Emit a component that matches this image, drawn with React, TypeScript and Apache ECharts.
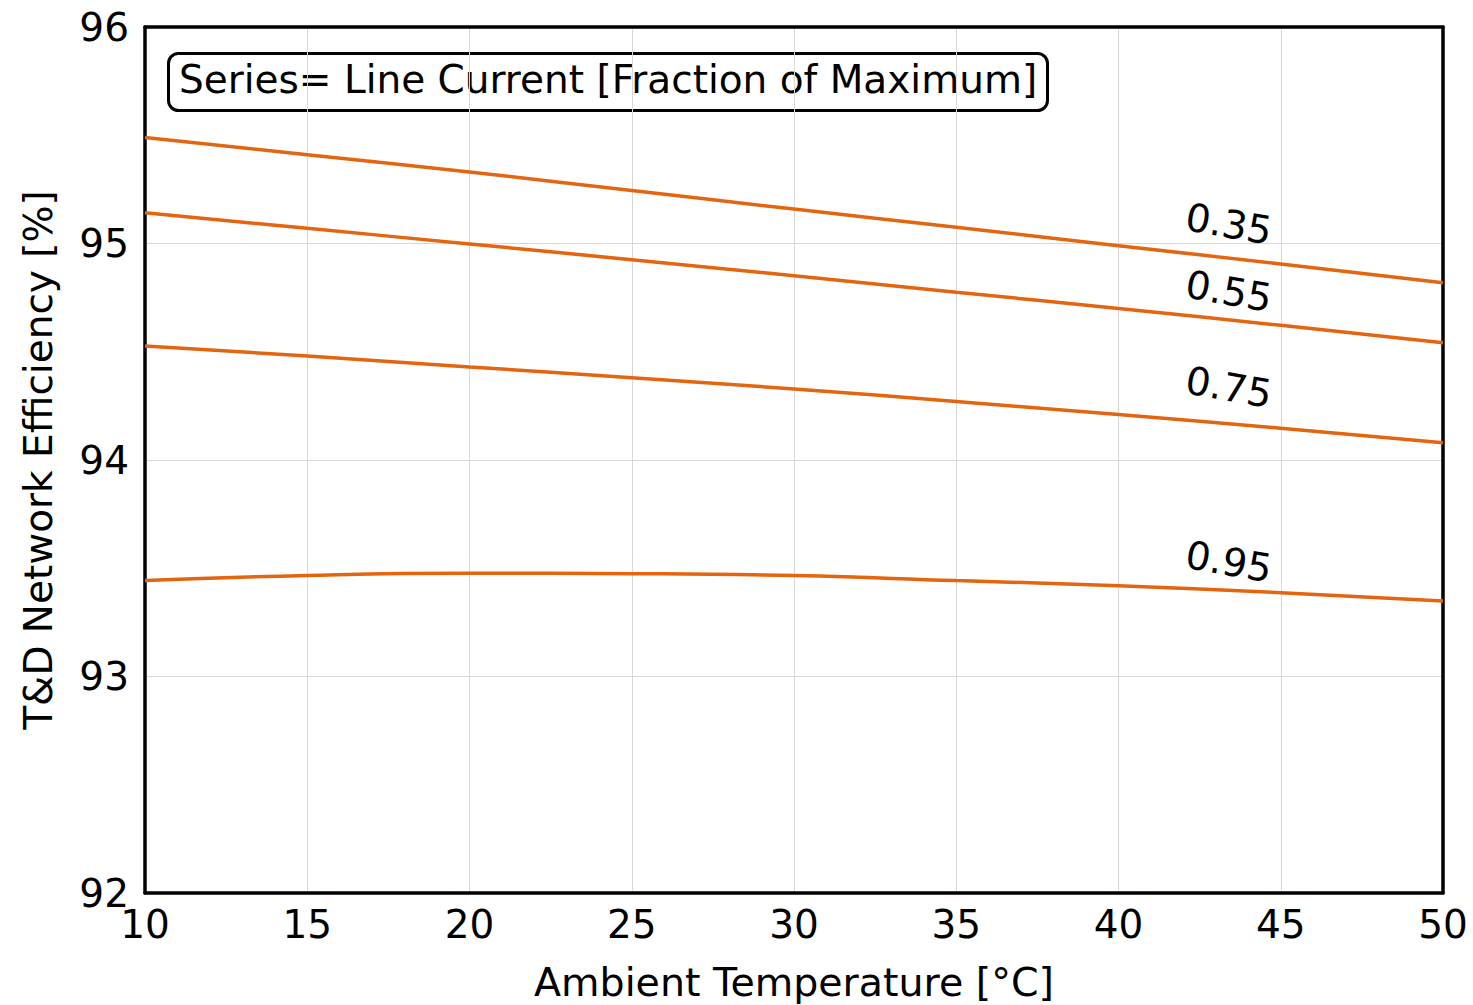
import React, { useEffect, useRef } from "react";
import * as echarts from "echarts";

const temperatures = [10, 15, 20, 25, 30, 35, 40, 45, 50];
const seriesNames = ["0.35", "0.55", "0.75", "0.95"];
const eff035 = [95.49, 95.41, 95.33, 95.245, 95.159, 95.075, 94.99, 94.905, 94.819];
const eff055 = [95.142, 95.07, 94.998, 94.925, 94.851, 94.775, 94.70, 94.622, 94.542];
const eff075 = [94.527, 94.48, 94.43, 94.38, 94.328, 94.27, 94.21, 94.147, 94.08];
const eff095 = [93.443, 93.467, 93.477, 93.475, 93.466, 93.443, 93.419, 93.387, 93.349];
const allSeries = [eff035, eff055, eff075, eff095];
const xTicks = [10, 15, 20, 25, 30, 35, 40, 45, 50];
const yTicks = [92, 93, 94, 95, 96];

const labelAnchorX = 45;
const labelOffsets = [[-52, -40], [-52, -34], [-52, -41], [-52, -31]];

const FONT = "'DejaVu Sans', 'Liberation Sans', sans-serif";
const LINE_COLOR = "#e4650f";
const FRAME = { show: true, onZero: false, lineStyle: { color: "#000", width: 3.5 } };

export default function App() {
  const ref = useRef<HTMLDivElement>(null);
  useEffect(() => {
    if (!ref.current) return;
    const chart = echarts.init(ref.current, null, { renderer: "svg" });
    const option: any = {
      animation: false,
      backgroundColor: "#fff",
      grid: {
        left: 145,
        right: 30,
        top: 27,
        bottom: 112,
        containLabel: false,
        outerBoundsMode: "none",
      },
      xAxis: [
        {
          type: "value",
          position: "bottom",
          min: xTicks[0],
          max: xTicks[xTicks.length - 1],
          interval: 5,
          name: "Ambient Temperature [°C]",
          nameLocation: "middle",
          nameGap: 69,
          nameTextStyle: { fontFamily: FONT, fontSize: 39.5, color: "#000" },
          axisLine: FRAME,
          axisTick: { show: false },
          axisLabel: { fontFamily: FONT, fontSize: 39, color: "#000", margin: 12 },
          splitLine: { show: true, lineStyle: { color: "#d8d8d8", width: 1 } },
        },
        {
          type: "value",
          position: "top",
          min: xTicks[0],
          max: xTicks[xTicks.length - 1],
          interval: 5,
          axisLine: FRAME,
          axisTick: { show: false },
          axisLabel: { show: false },
          splitLine: { show: false },
        },
      ],
      yAxis: [
        {
          type: "value",
          position: "left",
          min: yTicks[0],
          max: yTicks[yTicks.length - 1],
          interval: 1,
          name: "T&D Network Efficiency [%]",
          nameLocation: "middle",
          nameGap: 87,
          nameTextStyle: { fontFamily: FONT, fontSize: 39, color: "#000" },
          axisLine: FRAME,
          axisTick: { show: false },
          axisLabel: { fontFamily: FONT, fontSize: 39, color: "#000", margin: 16 },
          splitLine: { show: true, lineStyle: { color: "#d8d8d8", width: 1 } },
        },
        {
          type: "value",
          position: "right",
          min: yTicks[0],
          max: yTicks[yTicks.length - 1],
          interval: 1,
          axisLine: FRAME,
          axisTick: { show: false },
          axisLabel: { show: false },
          splitLine: { show: false },
        },
      ],
      series: allSeries.map((vals, i) => ({
        name: seriesNames[i],
        type: "line",
        xAxisIndex: 0,
        yAxisIndex: 0,
        smooth: true,
        showSymbol: false,
        symbol: "none",
        lineStyle: { color: LINE_COLOR, width: 3.5 },
        data: temperatures.map((t, j) => [t, vals[j]]),
        z: 3,
      })),
      graphic: [
        {
          type: "group",
          left: 167,
          top: 52,
          children: [
            {
              type: "rect",
              shape: { x: 0, y: 0, width: 879, height: 57, r: 10 },
              style: { fill: "#fff", stroke: "#000", lineWidth: 3 },
            },
            {
              type: "text",
              x: 439.5,
              y: 26,
              style: {
                text: "Series= Line Current [Fraction of Maximum]",
                font: `39px ${FONT}`,
                fill: "#000",
                align: "center",
                verticalAlign: "middle",
              },
            },
          ],
          z: 10,
        },
      ],
    };
    chart.setOption(option);

    const labelGraphics = allSeries.map((vals, i) => {
      const idx = temperatures.indexOf(labelAnchorX);
      const p = chart.convertToPixel({ xAxisIndex: 0, yAxisIndex: 0 }, [temperatures[idx], vals[idx]]) as number[];
      return {
        type: "text",
        x: p[0] + labelOffsets[i][0],
        y: p[1] + labelOffsets[i][1],
        rotation: (-10 * Math.PI) / 180,
        style: {
          text: seriesNames[i],
          font: `39px ${FONT}`,
          fill: "#000",
          align: "center",
          verticalAlign: "middle",
        },
        z: 11,
      };
    });
    chart.setOption({ graphic: [...option.graphic, ...labelGraphics] });

    return () => chart.dispose();
  }, []);
  return (
    <div
      ref={ref}
      style={{ position: "absolute", left: 0, top: 0, width: 1473, height: 1005 }}
    />
  );
}
